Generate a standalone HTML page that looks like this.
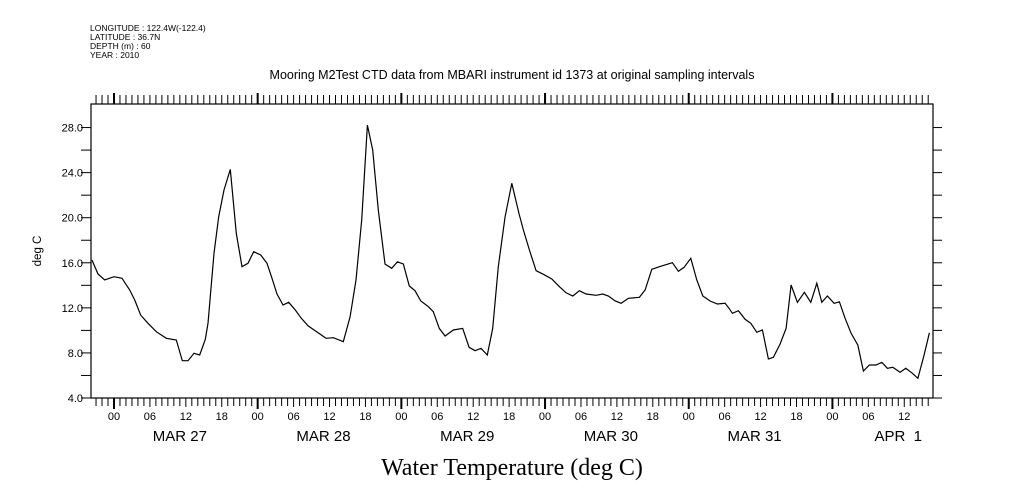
<!DOCTYPE html>
<html><head><meta charset="utf-8"><style>
body{margin:0;background:#fff;}
svg{display:block;font-family:"Liberation Sans",sans-serif;}
</style></head><body>
<svg id="chart" width="1009" height="504" viewBox="0 0 1009 504" xmlns="http://www.w3.org/2000/svg">
<g font-size="8.5" fill="#000">
<text x="90" y="31">LONGITUDE : 122.4W(-122.4)</text>
<text x="90" y="40">LATITUDE : 36.7N</text>
<text x="90" y="49">DEPTH (m) : 60</text>
<text x="90" y="58">YEAR : 2010</text>
</g>
<text x="512" y="79" text-anchor="middle" font-size="12.5">Mooring M2Test CTD data from MBARI instrument id 1373 at original sampling intervals</text>
<text transform="translate(41,251) rotate(-90)" text-anchor="middle" font-size="11.5">deg C</text>
<text x="512" y="475" text-anchor="middle" font-size="24" font-family="'Liberation Serif',serif">Water Temperature (deg C)</text>
<g id="axes"></g>
<g id="series"></g>
</svg>
<script>
const hours=[-3.68,-2.67,-1.55,0,1.34,2.62,3.46,4.46,5.68,7.07,8.74,10.41,11.41,12.36,13.36,14.32,15.25,15.70,16.71,17.49,18.38,19.43,20.43,21.38,22.39,23.34,24.51,25.56,26.40,27.23,28.23,29.18,30.29,31.29,32.46,33.86,35.42,36.64,38.31,39.43,40.43,41.38,42.32,43.22,44.15,45.27,46.39,47.33,48.33,49.33,50.28,51.24,52.51,53.34,54.34,55.30,56.68,58.25,59.31,60.31,61.31,62.36,63.26,64.20,65.32,66.44,67.66,68.38,69.38,70.50,71.72,73.12,74.39,75.51,76.63,77.73,78.85,80.52,81.64,82.58,83.69,84.70,85.92,87.76,88.71,89.83,91.10,93.27,94.27,95.22,96.34,97.34,98.35,99.57,100.79,102.07,102.79,103.29,104.29,105.41,106.36,107.37,108.30,109.31,110.14,111.26,112.26,113.10,114.15,115.32,116.39,117.39,118.23,119.16,120.28,121.17,122.12,123.12,124.24,125.17,126.18,127.29,128.24,129.19,130.09,131.31,132.26,133.26,134.27,135.31,136.20];
const temps=[16.24,15.00,14.47,14.76,14.62,13.58,12.70,11.36,10.63,9.88,9.30,9.15,7.31,7.31,7.97,7.82,9.21,10.63,16.84,20.09,22.46,24.29,18.61,15.65,15.95,16.98,16.69,15.95,14.62,13.23,12.25,12.49,11.81,11.07,10.39,9.88,9.30,9.35,9.00,11.21,14.47,19.79,28.22,26.01,20.68,15.89,15.51,16.09,15.89,13.94,13.52,12.61,12.10,11.66,10.18,9.50,10.03,10.18,8.50,8.20,8.41,7.82,10.18,15.65,20.09,23.05,20.33,18.91,17.13,15.30,14.98,14.56,13.88,13.34,13.05,13.52,13.23,13.11,13.23,13.05,12.63,12.40,12.85,12.94,13.58,15.42,15.65,16.01,15.24,15.60,16.40,14.47,13.05,12.61,12.34,12.40,11.92,11.52,11.75,10.98,10.63,9.83,10.03,7.46,7.61,8.79,10.18,14.03,12.49,13.38,12.49,14.18,12.49,13.05,12.40,12.54,11.07,9.74,8.70,6.40,6.93,6.93,7.17,6.64,6.72,6.28,6.64,6.24,5.75,7.82,9.79];
const yTickLabels=["4.0","8.0","12.0","16.0","20.0","24.0","28.0"];
const hourLabels=["00","06","12","18"];
const dayLabels=["MAR 27","MAR 28","MAR 29","MAR 30","MAR 31","APR  1"];

const L=91,R=933,T=104,B=398;
const X0=-3.84,X1=136.8,Y0=4,Y1=30.09;
const sx=h=>L+(h-X0)/(X1-X0)*(R-L);
const sy=v=>B-(v-Y0)/(Y1-Y0)*(B-T);
const NS="http://www.w3.org/2000/svg";
function mk(tag,attrs,parent){const e=document.createElementNS(NS,tag);for(const k in attrs)e.setAttribute(k,attrs[k]);parent.appendChild(e);return e;}
const axes=document.getElementById('axes');
const frame=mk('rect',{x:L,y:T,width:R-L,height:B-T,fill:'none',stroke:'#000','stroke-width':1.2},axes);


for(let v=4;v<=28;v+=2){
  const y=sy(v);
  const t1=mk('line',{x1:L-10,x2:L,y1:y,y2:y,stroke:'#000'},axes);
  
  
  const t2=mk('line',{x1:R,x2:R+9,y1:y,y2:y,stroke:'#000'},axes);
  
  
}
yTickLabels.forEach(s=>{
  const t=mk('text',{x:L-8,y:sy(parseFloat(s))+4,'text-anchor':'end','font-size':11},axes);
  t.textContent=s;
  
  
});
for(let h=Math.ceil(X0);h<=X1;h++){
  const x=sx(h);const major=((h%24)+24)%24===0;
  const a=mk('line',{x1:x,x2:x,y1:T-(major?11:9),y2:T,stroke:'#000','stroke-width':major?2:1},axes);
  
  
  const b=mk('line',{x1:x,x2:x,y1:B,y2:B+(major?11:(h%6===0?9:8)),stroke:'#000','stroke-width':major?2:1},axes);
  
  
}
for(let h=0;h<=X1;h+=6){
  const t=mk('text',{x:sx(h),y:420,'text-anchor':'middle','font-size':11},axes);
  t.textContent=hourLabels[(h/6)%4];
  
  
}
dayLabels.forEach((d,i)=>{
  const t=mk('text',{x:sx(i*24+12)-6,y:441,'text-anchor':'middle','font-size':15,style:'white-space:pre'},axes);
  t.textContent=d;
  
  
});
const pts=hours.map((h,i)=>sx(h).toFixed(1)+','+sy(temps[i]).toFixed(1)).join(' ');
const line=mk('polyline',{points:pts,fill:'none',stroke:'#000','stroke-width':1.2},document.getElementById('series'));


</script>
</body></html>
